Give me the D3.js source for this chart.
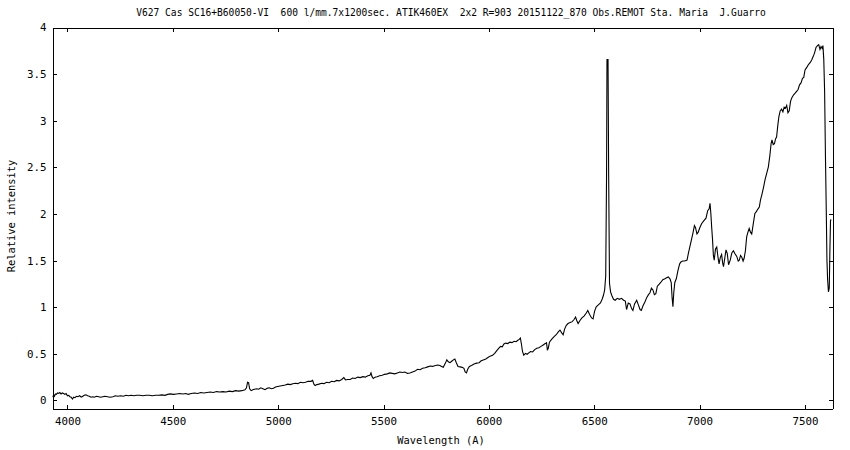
<!DOCTYPE html>
<html>
<head>
<meta charset="utf-8">
<script src="https://cdn.jsdelivr.net/npm/d3@7"></script>
<style>
  html, body { margin: 0; padding: 0; background: #fff; }
  svg { display: block; }
  text { font-family: "DejaVu Sans Mono", "Liberation Mono", monospace; fill: #000; white-space: pre; }
</style>
</head>
<body>
<svg id="chart" width="850" height="450"></svg>
<script>
const titleText = "V627 Cas SC16+B60050-VI  600 l/mm.7x1200sec. ATIK460EX  2x2 R=903 20151122_870 Obs.REMOT Sta. Maria  J.Guarro";
const xLabel = "Wavelength (A)";
const yLabel = "Relative intensity";
const xTicks = [4000, 4500, 5000, 5500, 6000, 6500, 7000, 7500];
const yTicks = [0, 0.5, 1, 1.5, 2, 2.5, 3, 3.5, 4];

const wavelength = [
3933,3937,3941,3945,3950,3955,3960,3966,3972,3978,3984,3990,3996,4002,4008,4014,4020,4026,4032,4038,
4045,4052,4060,4068,4075,4082,4090,4098,4106,4114,4122,4130,4140,4150,4160,4170,4180,4192,4205,4218,
4230,4242,4255,4268,4280,4292,4305,4318,4330,4345,4360,4375,4390,4405,4420,4435,4450,4465,4478,4490,
4505,4520,4535,4550,4565,4575,4590,4605,4620,4635,4650,4665,4680,4695,4710,4725,4740,4755,4770,4785,
4800,4815,4830,4845,4852,4857,4862,4867,4874,4882,4890,4900,4910,4920,4930,4940,4950,4960,4970,4980,
4990,5000,5012,5024,5036,5048,5060,5072,5084,5096,5108,5120,5132,5145,5158,5166,5172,5178,5186,5196,
5208,5220,5232,5244,5256,5268,5280,5292,5304,5314,5322,5332,5344,5356,5368,5380,5392,5404,5416,5428,
5438,5443,5448,5454,5462,5472,5484,5496,5508,5520,5532,5544,5556,5568,5580,5592,5604,5616,5628,5640,
5652,5664,5676,5688,5700,5712,5724,5736,5748,5760,5770,5778,5786,5795,5803,5810,5818,5826,5834,5841,
5848,5856,5866,5876,5884,5890,5896,5902,5910,5920,5932,5944,5956,5966,5976,5988,5998,6008,6020,6030,
6040,6050,6058,6066,6074,6082,6092,6102,6112,6122,6132,6140,6147,6152,6157,6162,6168,6176,6184,6192,
6200,6210,6220,6230,6240,6250,6260,6270,6276,6280,6284,6290,6300,6312,6322,6332,6340,6348,6355,6362,
6370,6378,6388,6398,6406,6414,6420,6426,6434,6444,6454,6464,6472,6480,6490,6497,6504,6512,6522,6532,
6540,6546,6552,6557,6561,6563,6568,6571,6575,6580,6586,6594,6602,6612,6622,6632,6642,6650,6656,6664,
6672,6680,6686,6694,6704,6712,6720,6726,6734,6743,6752,6760,6767,6774,6781,6788,6795,6802,6810,6818,
6828,6838,6846,6854,6862,6868,6872,6876,6880,6885,6892,6900,6908,6914,6922,6932,6943,6950,6956,6964,
6971,6978,6983,6990,6996,7004,7012,7022,7033,7041,7048,7052,7056,7060,7064,7068,7072,7078,7084,7090,
7095,7101,7107,7112,7116,7122,7128,7134,7140,7148,7156,7163,7170,7179,7186,7191,7197,7203,7209,7214,
7220,7226,7232,7238,7244,7250,7258,7265,7272,7280,7286,7292,7298,7306,7313,7321,7329,7336,7342,7346,
7352,7358,7363,7368,7374,7379,7385,7392,7398,7404,7410,7416,7422,7428,7434,7440,7448,7456,7463,7470,
7477,7484,7491,7497,7503,7512,7520,7528,7535,7541,7548,7555,7562,7568,7574,7579,7584,7588,7592,7596,
7600,7604,7607,7610,7614,7618,7621,7624,7628
];

const intensity = [
0.03,0.055,0.04,0.065,0.06,0.075,0.07,0.08,0.065,0.075,0.07,0.06,0.07,0.045,0.05,0.035,0.03,0.01,0.03,0.025,
0.04,0.035,0.045,0.03,0.04,0.05,0.055,0.045,0.04,0.03,0.035,0.03,0.04,0.035,0.03,0.035,0.04,0.035,0.03,0.035,
0.045,0.04,0.045,0.04,0.05,0.045,0.05,0.045,0.05,0.05,0.045,0.05,0.05,0.045,0.05,0.05,0.055,0.05,0.06,0.065,
0.06,0.065,0.07,0.065,0.07,0.06,0.07,0.075,0.07,0.08,0.075,0.08,0.085,0.08,0.09,0.085,0.09,0.085,0.095,0.09,
0.10,0.095,0.10,0.11,0.13,0.19,0.185,0.12,0.10,0.11,0.115,0.12,0.115,0.13,0.12,0.11,0.125,0.13,0.12,0.125,
0.14,0.145,0.15,0.155,0.16,0.17,0.165,0.175,0.18,0.175,0.19,0.185,0.19,0.20,0.20,0.21,0.17,0.155,0.165,0.17,
0.18,0.175,0.19,0.185,0.20,0.195,0.21,0.205,0.22,0.24,0.215,0.22,0.22,0.235,0.23,0.245,0.24,0.25,0.245,0.26,
0.265,0.29,0.25,0.23,0.245,0.25,0.26,0.265,0.275,0.28,0.29,0.285,0.28,0.29,0.30,0.295,0.30,0.285,0.29,0.30,
0.31,0.33,0.325,0.34,0.345,0.355,0.365,0.36,0.37,0.375,0.37,0.36,0.35,0.39,0.43,0.41,0.40,0.415,0.43,0.44,
0.40,0.36,0.355,0.35,0.34,0.30,0.29,0.33,0.36,0.37,0.385,0.395,0.40,0.42,0.43,0.44,0.455,0.47,0.48,0.50,
0.53,0.555,0.575,0.57,0.60,0.61,0.605,0.62,0.615,0.63,0.625,0.64,0.65,0.665,0.60,0.52,0.48,0.50,0.49,0.505,
0.52,0.515,0.54,0.555,0.56,0.575,0.59,0.605,0.615,0.54,0.55,0.62,0.65,0.68,0.70,0.73,0.75,0.72,0.70,0.76,
0.80,0.82,0.83,0.84,0.86,0.89,0.85,0.82,0.85,0.88,0.90,0.93,0.96,0.92,0.88,0.87,0.95,1.00,1.02,1.04,
1.08,1.12,1.18,1.33,2.41,3.65,3.65,2.41,1.25,1.16,1.12,1.08,1.07,1.09,1.08,1.09,1.07,1.06,0.97,1.04,
1.03,0.98,0.96,1.03,1.07,1.02,0.97,0.96,1.01,1.05,1.10,1.13,1.15,1.20,1.18,1.13,1.14,1.22,1.24,1.26,
1.29,1.30,1.31,1.32,1.30,1.26,1.10,1.00,1.15,1.26,1.30,1.39,1.46,1.48,1.49,1.49,1.50,1.58,1.64,1.72,
1.79,1.87,1.85,1.78,1.80,1.85,1.89,1.92,1.95,2.03,2.05,2.11,2.00,1.85,1.72,1.55,1.50,1.62,1.64,1.53,
1.46,1.53,1.56,1.47,1.43,1.52,1.61,1.57,1.45,1.50,1.58,1.60,1.57,1.54,1.49,1.50,1.55,1.53,1.49,1.52,
1.60,1.75,1.80,1.84,1.80,1.78,1.90,2.00,2.02,2.05,2.07,2.15,2.20,2.28,2.36,2.43,2.50,2.62,2.75,2.79,
2.74,2.75,2.80,2.82,2.95,3.04,3.10,3.12,3.09,3.14,3.13,3.16,3.08,3.10,3.20,3.24,3.27,3.29,3.31,3.33,
3.38,3.40,3.45,3.46,3.54,3.57,3.60,3.62,3.65,3.68,3.72,3.78,3.80,3.81,3.76,3.79,3.77,3.80,3.65,3.30,
2.60,2.00,1.50,1.30,1.16,1.20,1.60,1.93,1.93
];

const W = 850, H = 450;
const plot = { left: 52, right: 832, top: 27, bottom: 408 };

const svg = d3.select("#chart");
svg.append("rect").attr("width", W).attr("height", H).attr("fill", "#fff");

const x = d3.scaleLinear().domain([3929, 7631]).range([plot.left, plot.right]);
const y = d3.scaleLinear().domain([-0.086, 4]).range([plot.bottom, plot.top]);

const data = wavelength.map((w, i) => ({ w, v: intensity[i] }));

svg.append("clipPath").attr("id", "clip")
  .append("rect").attr("x", plot.left).attr("y", plot.top)
  .attr("width", plot.right - plot.left).attr("height", plot.bottom - plot.top);

const fmt = d => String(d);
const gx = svg.append("g").attr("transform", `translate(0.5,${plot.bottom + 0.5})`)
  .call(d3.axisBottom(x).tickValues(xTicks).tickFormat(fmt).tickSize(-4).tickSizeOuter(0).tickPadding(9));
const gxTop = svg.append("g").attr("transform", `translate(0.5,${plot.top + 0.5})`)
  .call(d3.axisTop(x).tickValues(xTicks).tickFormat("").tickSize(-4).tickSizeOuter(0));
const gy = svg.append("g").attr("transform", `translate(${plot.left + 0.5},0.5)`)
  .call(d3.axisLeft(y).tickValues(yTicks).tickFormat(fmt).tickSize(-4).tickSizeOuter(0).tickPadding(6));
const gyR = svg.append("g").attr("transform", `translate(${plot.right + 0.5},0.5)`)
  .call(d3.axisRight(y).tickValues(yTicks).tickFormat("").tickSize(-4).tickSizeOuter(0));

[gx, gxTop, gy, gyR].forEach(g => {
  g.selectAll("path.domain").attr("stroke", "#000").attr("stroke-width", 1).attr("shape-rendering", "crispEdges");
  g.selectAll(".tick line").attr("stroke", "#000").attr("shape-rendering", "crispEdges");
  g.selectAll("text").attr("font-family", "DejaVu Sans Mono").attr("font-size", "10.8px").attr("fill", "#000");
});

const line = d3.line().x(d => x(d.w)).y(d => y(d.v));
svg.append("path").datum(data)
  .attr("clip-path", "url(#clip)")
  .attr("fill", "none").attr("stroke", "#000").attr("stroke-width", 1.1)
  .attr("stroke-linejoin", "miter")
  .attr("d", line);

svg.append("text").attr("x", 451).attr("y", 16).attr("text-anchor", "middle")
  .attr("xml:space", "preserve")
  .attr("font-size", "9.6px").text(titleText);

svg.append("text").attr("x", 441).attr("y", 444).attr("text-anchor", "middle")
  .attr("font-size", "10.4px").text(xLabel);
svg.append("text").attr("transform", "translate(15,216) rotate(-90)").attr("text-anchor", "middle")
  .attr("font-size", "10.4px").text(yLabel);
</script>
</body>
</html>
